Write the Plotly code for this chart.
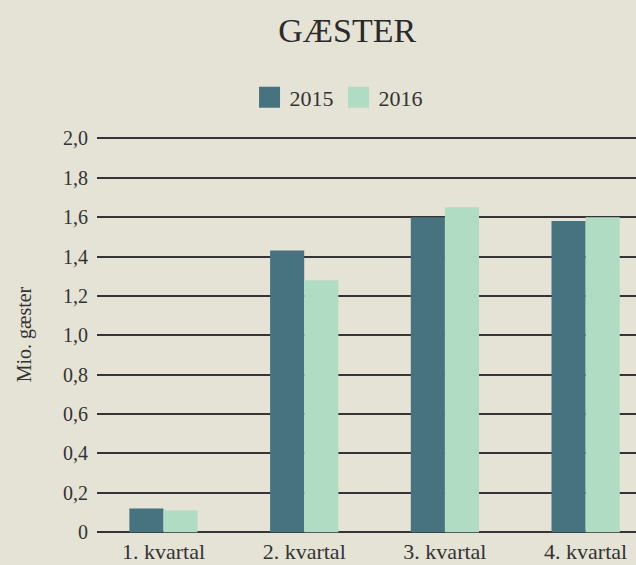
import plotly.graph_objects as go

categories = ["1. kvartal", "2. kvartal", "3. kvartal", "4. kvartal"]
values_2015 = [0.12, 1.43, 1.60, 1.58]
values_2016 = [0.11, 1.28, 1.65, 1.60]
tick_vals = [0, 0.2, 0.4, 0.6, 0.8, 1.0, 1.2, 1.4, 1.6, 1.8, 2.0]
tick_text = ["0", "0,2", "0,4", "0,6", "0,8", "1,0", "1,2", "1,4", "1,6", "1,8", "2,0"]

C15 = "#46737f"
C16 = "#b0dcc4"
BG = "#e5e2d6"
FONT = "Liberation Serif"

fig = go.Figure()
fig.add_trace(go.Bar(x=categories, y=values_2015, name="2015", marker=dict(color=C15, line=dict(width=0)), showlegend=False))
fig.add_trace(go.Bar(x=categories, y=values_2016, name="2016", marker=dict(color=C16, line=dict(width=0)), showlegend=False))
fig.add_trace(go.Scatter(x=[None], y=[None], mode="markers", name="2015",
                         marker=dict(symbol="square", size=16, color=C15, line=dict(color=C15, width=6))))
fig.add_trace(go.Scatter(x=[None], y=[None], mode="markers", name="2016",
                         marker=dict(symbol="square", size=16, color=C16, line=dict(color=C16, width=6))))

fig.update_layout(
    width=636, height=565,
    paper_bgcolor=BG, plot_bgcolor=BG,
    font=dict(family=FONT, size=20, color="#333333"),
    title=dict(text="GÆSTER", xref="container", x=0.546, xanchor="center", y=0.947, yanchor="middle",
               font=dict(family=FONT, size=34, color="#2a2a2a")),
    margin=dict(l=97, r=0, t=136, b=32),
    barmode="group", bargap=0.515, bargroupgap=0,
    legend=dict(orientation="h", x=0.283, xanchor="left", y=1.15, yanchor="top",
                font=dict(family=FONT, size=22, color="#333333"), itemsizing="trace",
                bgcolor="rgba(0,0,0,0)", tracegroupgap=0),
    xaxis=dict(range=[-0.4726, 3.358], showgrid=False, showline=False, zeroline=False,
               ticks="", tickfont=dict(size=22), ticklabelstandoff=3, fixedrange=True),
    yaxis=dict(range=[-0.004, 2.012], tickvals=tick_vals, ticktext=tick_text, showgrid=True,
               gridcolor="#353535", gridwidth=1.5, zeroline=True, zerolinecolor="#353535",
               zerolinewidth=1.5, showline=False, fixedrange=True,
               ticks="", ticklabelstandoff=8, tickfont=dict(size=20),
               title=dict(text="Mio. gæster", font=dict(size=20), standoff=26)),
)
fig.write_html("out.html", config={"displayModeBar": False},
               post_script="document.body.style.margin='0';document.body.style.background='#e5e2d6';")
